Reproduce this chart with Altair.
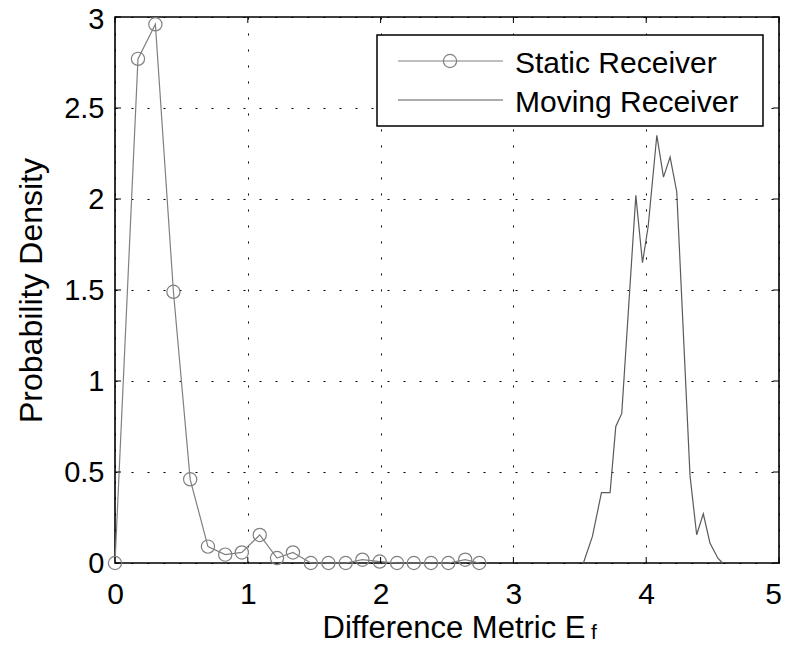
import altair as alt
import pandas as pd

# ---- data ----
SERIES = ["Static Receiver", "Moving Receiver"]

STATIC_X = [0.0, 0.173, 0.304, 0.44, 0.566, 0.70, 0.83, 0.955, 1.09, 1.22, 1.34,
            1.475, 1.607, 1.737, 1.863, 1.993, 2.124, 2.25, 2.38, 2.51, 2.637, 2.743]
STATIC_Y = [0.0, 2.77, 2.96, 1.49, 0.46, 0.09, 0.046, 0.058, 0.154, 0.027, 0.058,
            0.0, 0.0, 0.0, 0.018, 0.008, 0.0, 0.0, 0.0, 0.0, 0.018, 0.0]

MOVING_X = [3.527, 3.595, 3.663, 3.728, 3.771, 3.816, 3.922, 3.972, 4.015, 4.08,
            4.13, 4.18, 4.23, 4.33, 4.38, 4.43, 4.48, 4.54, 4.575]
MOVING_Y = [0.0, 0.146, 0.387, 0.387, 0.75, 0.822, 2.02, 1.65, 1.85, 2.35,
            2.12, 2.23, 2.04, 0.48, 0.155, 0.27, 0.11, 0.026, 0.0]

X_TICKS = [0, 1, 2, 3, 4, 5]
Y_TICKS = [0, 0.5, 1, 1.5, 2, 2.5, 3]

X_TITLE = "Difference Metric E"
X_TITLE_SUB = "f"
Y_TITLE = "Probability Density"

W, H = 664, 546
FONT = "Liberation Sans"
STATIC_COLOR = "#808080"
MOVING_COLOR = "#5a5a5a"

static_df = pd.DataFrame({"x": STATIC_X, "y": STATIC_Y})
moving_df = pd.DataFrame({"x": MOVING_X, "y": MOVING_Y})
xt_df = pd.DataFrame({"x": X_TICKS})
yt_df = pd.DataFrame({"y": Y_TICKS})
one = pd.DataFrame({"a": [0]})

x_scale = alt.Scale(domain=[0, 5], nice=False, zero=False)
y_scale = alt.Scale(domain=[0, 3], nice=False, zero=False)

x_axis = alt.Axis(values=X_TICKS, format="~g", grid=True, gridDash=[2, 14],
                  gridColor="#000000", gridWidth=1, domain=False, ticks=False,
                  tickSize=0, labelFontSize=30, labelPadding=16, labelFlush=False,
                  labelOffset={"condition": {"test": "datum.value === 5", "value": -6}, "value": 0},
                  labelOverlap=False, title=X_TITLE, titleFontSize=31,
                  titleFontWeight="normal", titleAlign="left", titleBaseline="alphabetic",
                  titleX=207, titleY=74, titleAngle=0)
y_axis = alt.Axis(values=Y_TICKS, format="~g", grid=True, gridDash=[2, 14],
                  gridColor="#000000", gridWidth=1, domain=False, ticks=False,
                  tickSize=0, labelFontSize=29, labelPadding=11, labelFlush=False,
                  labelOffset={"condition": {"test": "datum.value === 3", "value": 2}, "value": 0},
                  labelOverlap=False, title=Y_TITLE, titleFontSize=32,
                  titleFontWeight="normal", titleAlign="center", titleBaseline="alphabetic",
                  titleX=-74, titleY=H / 2, titleAngle=270)

X = alt.X("x:Q", scale=x_scale, axis=x_axis)
Y = alt.Y("y:Q", scale=y_scale, axis=y_axis)

static_line = alt.Chart(static_df).mark_line(color=STATIC_COLOR, strokeWidth=1.2).encode(x=X, y=Y)
static_pts = alt.Chart(static_df).mark_point(
    shape="circle", size=175, color=STATIC_COLOR, filled=False, strokeWidth=1.2, opacity=1
).encode(x=X, y=Y)
moving_line = alt.Chart(moving_df).mark_line(color=MOVING_COLOR, strokeWidth=1.2).encode(x=X, y=Y)

# inside ticks (Matlab style) on all four sides
tick_b = alt.Chart(xt_df).mark_rule(color="black", strokeWidth=1).encode(
    x=X, y=alt.value(H), y2=alt.value(H - 6))
tick_t = alt.Chart(xt_df).mark_rule(color="black", strokeWidth=1).encode(
    x=X, y=alt.value(0), y2=alt.value(6))
tick_l = alt.Chart(yt_df).mark_rule(color="black", strokeWidth=1).encode(
    y=Y, x=alt.value(0), x2=alt.value(6))
tick_r = alt.Chart(yt_df).mark_rule(color="black", strokeWidth=1).encode(
    y=Y, x=alt.value(W), x2=alt.value(W - 6))

# legend
leg_box = alt.Chart(one).mark_rect(fill="white", stroke="black", strokeWidth=1.5).encode(
    x=alt.value(262), x2=alt.value(648), y=alt.value(18), y2=alt.value(109))
leg_l1 = alt.Chart(one).mark_rule(color=STATIC_COLOR, strokeWidth=1.2).encode(
    x=alt.value(283), x2=alt.value(388), y=alt.value(44))
leg_p1 = alt.Chart(one).mark_point(shape="circle", size=175, color=STATIC_COLOR,
                                   filled=False, strokeWidth=1.2, opacity=1).encode(
    x=alt.value(335), y=alt.value(44))
leg_l2 = alt.Chart(one).mark_rule(color=MOVING_COLOR, strokeWidth=1.2).encode(
    x=alt.value(283), x2=alt.value(388), y=alt.value(83))
leg_t1 = alt.Chart(pd.DataFrame({"t": [SERIES[0]]})).mark_text(
    font=FONT, fontSize=30, align="left", baseline="alphabetic", color="black").encode(
    x=alt.value(400), y=alt.value(56), text="t:N")
leg_t2 = alt.Chart(pd.DataFrame({"t": [SERIES[1]]})).mark_text(
    font=FONT, fontSize=30, align="left", baseline="alphabetic", color="black").encode(
    x=alt.value(400), y=alt.value(95), text="t:N")

sub_f = alt.Chart(pd.DataFrame({"t": [X_TITLE_SUB]})).mark_text(
    font=FONT, fontSize=21, align="left", baseline="alphabetic", color="black").encode(
    x=alt.value(476), y=alt.value(H + 76), text="t:N")

chart = alt.layer(
    static_line, static_pts, moving_line, tick_b, tick_t, tick_l, tick_r,
    leg_box, leg_l1, leg_p1, leg_l2, leg_t1, leg_t2, sub_f
).properties(
    width=W, height=H,
    autosize=alt.AutoSizeParams(type="none"),
    padding={"left": 107, "top": 9, "right": 2, "bottom": 81},
    background="white",
).configure_view(
    stroke="black", strokeWidth=1.6
).configure_axis(
    labelFont=FONT, titleFont=FONT, labelColor="black", titleColor="black"
)

chart.save("out.html", embed_options={"renderer": "svg", "actions": False})
